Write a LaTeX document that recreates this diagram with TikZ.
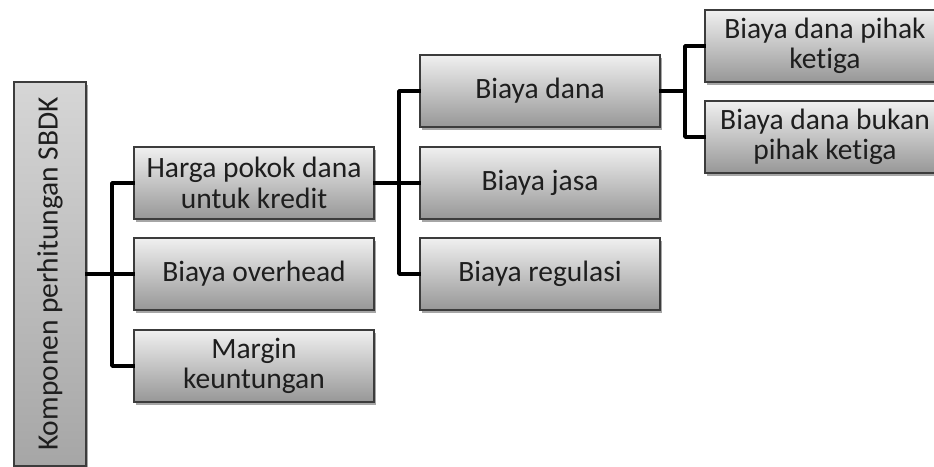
\documentclass[tikz,border=0pt]{standalone}
\usepackage{fontspec}
\setmainfont[Ligatures=NoCommon]{Carlito}
\usepackage{graphicx}
\usetikzlibrary{shadows}
% keep "t" and "i" as separate glyphs (Carlito would join them)
\newcommand\tiseq{t\kern0pt i}
\definecolor{boxtop}{HTML}{F0F0F0}
\definecolor{boxbot}{HTML}{979797}
\definecolor{rtop}{HTML}{D6D6D6}
\definecolor{rbot}{HTML}{A6A6A6}
\definecolor{edge}{HTML}{3C3C3C}
\definecolor{ink}{HTML}{1E1E1E}
\tikzset{
  box/.style={draw=edge, line width=1.2pt, top color=boxtop, bottom color=boxbot,
    minimum width=240pt, minimum height=72pt, inner sep=2pt,
    align=center, text=ink, font=\fontsize{29.5}{30.5}\selectfont,
    drop shadow={shadow xshift=2pt, shadow yshift=-3pt, opacity=0.35, fill=black}},
  rootbox/.style={box, top color=rtop, bottom color=rbot,
    minimum width=72pt, minimum height=384pt},
  link/.style={draw=black, line width=3.6pt, line join=round, line cap=rect}
}
\begin{document}
\begin{tikzpicture}[x=1pt, y=-1pt]
  \useasboundingbox (0,0) rectangle (934,466);

  % root, text running bottom to top
  \node[rootbox] (root) at (50,274) {\rotatebox{90}{Komponen perhitungan SBDK}};

  % first level
  \node[box] (hpd) at (254,183) {Harga pokok dana\\untuk kredit};
  \node[box] (boh) at (254,274) {Biaya overhead};
  \node[box] (mkt) at (254,366) {Margin\\keuntungan};

  % second level
  \node[box] (bdn) at (540,91)  {Biaya dana};
  \node[box] (bjs) at (540,183) {Biaya jasa};
  \node[box] (brg) at (540,274) {Biaya regulasi};

  % third level
  \node[box] (bpk) at (825,46)  {Biaya dana pihak\\ke\tiseq ga};
  \node[box] (bbk) at (825,137) {Biaya dana bukan\\pihak ke\tiseq ga};

  % junction points of the brackets
  \coordinate (j1) at (112,274);
  \coordinate (j2) at (399,183);
  \coordinate (j3) at (685,91);

  % connectors
  \draw[link] (root.east) -- (boh.west);
  \draw[link] (hpd.west) -| (j1) |- (mkt.west);
  \draw[link] (hpd.east) -- (bjs.west);
  \draw[link] (bdn.west) -| (j2) |- (brg.west);
  \draw[link] (bdn.east) -- (j3);
  \draw[link] (bpk.west) -| (j3) |- (bbk.west);
\end{tikzpicture}
\end{document}
